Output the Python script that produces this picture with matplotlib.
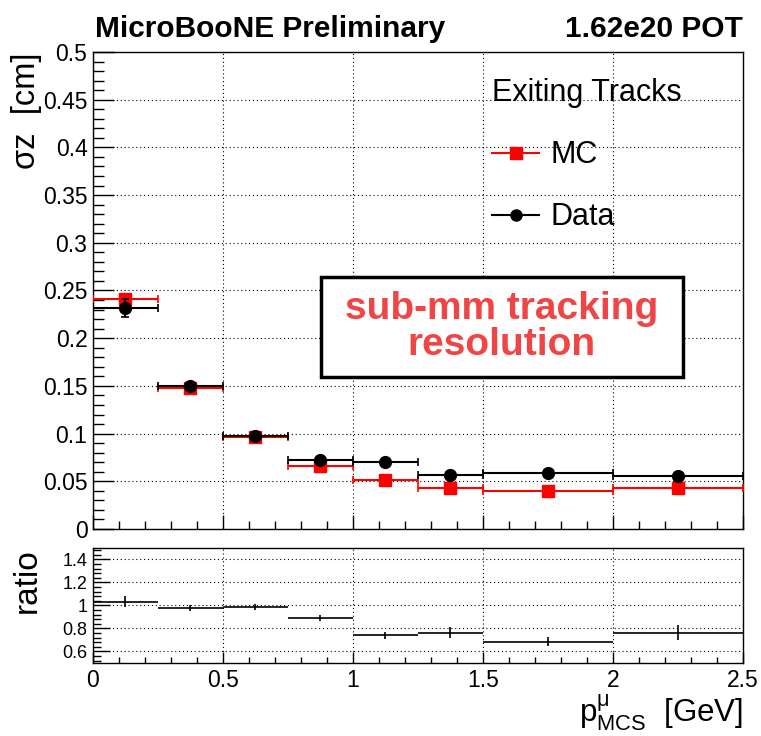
import numpy as np
import matplotlib
matplotlib.use('Agg')
import matplotlib.pyplot as plt
from matplotlib import ticker
from matplotlib.lines import Line2D
from matplotlib.patches import Rectangle

plt.rcParams['font.family'] = ['Liberation Sans', 'DejaVu Sans']
plt.rcParams['mathtext.fontset'] = 'custom'
plt.rcParams['mathtext.rm'] = 'Liberation Sans'
plt.rcParams['mathtext.it'] = 'Liberation Sans'
plt.rcParams['mathtext.default'] = 'regular'

# momentum bins [GeV]
bin_lo = np.array([0.0, 0.25, 0.5, 0.75, 1.0, 1.25, 1.5, 2.0])
bin_hi = np.array([0.25, 0.5, 0.75, 1.0, 1.25, 1.5, 2.0, 2.5])

# sigma z [cm]
mc_sigma = np.array([0.241, 0.1476, 0.096, 0.0665, 0.0512, 0.0427, 0.0402, 0.0427])
mc_err = np.array([0.003, 0.0015, 0.001, 0.001, 0.001, 0.001, 0.001, 0.001])
data_sigma = np.array([0.2312, 0.150, 0.0975, 0.0725, 0.0699, 0.057, 0.0587, 0.056])
data_err = np.array([0.0095, 0.002, 0.0015, 0.0015, 0.0015, 0.0015, 0.0015, 0.0015])

# MC / Data
ratio = np.array([1.034, 0.977, 0.986, 0.894, 0.739, 0.765, 0.685, 0.765])
ratio_err = np.array([0.05, 0.024, 0.026, 0.026, 0.029, 0.047, 0.039, 0.067])

centers = 0.5 * (bin_lo + bin_hi)
half = 0.5 * (bin_hi - bin_lo)

fig = plt.figure(figsize=(7.61, 7.36), dpi=100)
ax = fig.add_axes([0.1222, 0.2813, 0.8541, 0.648])
axr = fig.add_axes([0.1222, 0.0992, 0.8541, 0.1563])

grid_kw = dict(color='black', lw=0.8, ls=(0, (1, 2.5)))

# top panel
ax.errorbar(centers, mc_sigma, xerr=half, yerr=mc_err, fmt='s', color='red',
            ms=8.5, lw=1.5, capsize=3, capthick=1.2, zorder=3)
ax.errorbar(centers, data_sigma, xerr=half, yerr=data_err, fmt='o', color='black',
            ms=8.5, lw=1.5, capsize=3, capthick=1.2, zorder=4)
ax.set_xlim(0, 2.5)
ax.set_ylim(0, 0.5)
ax.xaxis.set_major_locator(ticker.MultipleLocator(0.5))
ax.xaxis.set_minor_locator(ticker.MultipleLocator(0.1))
ax.yaxis.set_major_locator(ticker.MultipleLocator(0.05))
ax.yaxis.set_minor_locator(ticker.MultipleLocator(0.01))
ax.yaxis.set_major_formatter(ticker.FuncFormatter(lambda v, p: ('%g' % round(v, 3))))
ax.tick_params(which='both', direction='in', top=False, right=False, labelbottom=False)
ax.tick_params(axis='y', which='major', length=15, width=1, labelsize=16.5, pad=4)
ax.tick_params(axis='y', which='minor', length=8, width=1)
ax.tick_params(axis='x', which='major', length=10, width=1)
ax.tick_params(axis='x', which='minor', length=5.5, width=1)
ax.grid(True, which='major', **grid_kw)
ax.set_ylabel('σz  [cm]', fontsize=23.5, loc='top')
ax.yaxis.set_label_coords(-0.078, 1.0)

handles = [Line2D([], [], color='red', marker='s', ms=8, lw=1.5),
           Line2D([], [], color='black', marker='o', ms=8, lw=1.5)]
ax.legend(handles, ['MC', 'Data'], title='Exiting Tracks', loc='upper left',
          bbox_to_anchor=(0.614, 0.945), frameon=False, fontsize=22, title_fontsize=22,
          handlelength=1.55, handletextpad=0.35, labelspacing=1.05, alignment='left',
          borderpad=0, borderaxespad=0)

ax.add_patch(Rectangle((0.351, 0.3187), 0.557, 0.2096, transform=ax.transAxes,
                       facecolor='white', edgecolor='black', lw=2.5, zorder=5))
ax.text(0.629, 0.4235, 'sub-mm tracking\nresolution', transform=ax.transAxes,
        ha='center', va='center', fontsize=28, fontweight='bold', color='#f04545',
        linespacing=0.97, zorder=6)

# ratio panel
axr.errorbar(centers, ratio, xerr=half, yerr=ratio_err, fmt='none', ecolor='black', lw=1.2)
axr.set_xlim(0, 2.5)
axr.set_ylim(0.5, 1.5)
axr.xaxis.set_major_locator(ticker.MultipleLocator(0.5))
axr.xaxis.set_minor_locator(ticker.MultipleLocator(0.1))
axr.yaxis.set_major_locator(ticker.FixedLocator([0.6, 0.8, 1.0, 1.2, 1.4]))
axr.yaxis.set_minor_locator(ticker.MultipleLocator(0.04))
axr.xaxis.set_major_formatter(ticker.FuncFormatter(lambda v, p: '%g' % v))
axr.yaxis.set_major_formatter(ticker.FuncFormatter(lambda v, p: '%g' % round(v, 2)))
axr.tick_params(which='both', direction='in', top=False, right=False)
axr.tick_params(axis='y', which='major', length=12, width=1, labelsize=13, pad=4)
axr.tick_params(axis='y', which='minor', length=6, width=1)
axr.tick_params(axis='x', which='major', length=8, width=1, labelsize=16.5, pad=4)
axr.tick_params(axis='x', which='minor', length=4, width=1)
axr.grid(True, which='major', **grid_kw)
axr.set_ylabel('ratio', fontsize=24, loc='top')
axr.yaxis.set_label_coords(-0.078, 1.0)
axr.set_xlabel(r'$p^{\mu}_{MCS}$  [GeV]', fontsize=22.5, loc='right')
axr.xaxis.set_label_coords(1.0, -0.26)

for a in (ax, axr):
    for s in a.spines.values():
        s.set_linewidth(1.0)

fig.text(0.1248, 0.9497, 'MicroBooNE Preliminary', fontsize=21.5, fontweight='bold',
         ha='left', va='baseline')
fig.text(0.9763, 0.9497, '1.62e20 POT', fontsize=21.5, fontweight='bold',
         ha='right', va='baseline')

fig.savefig('out.png', dpi=100)
